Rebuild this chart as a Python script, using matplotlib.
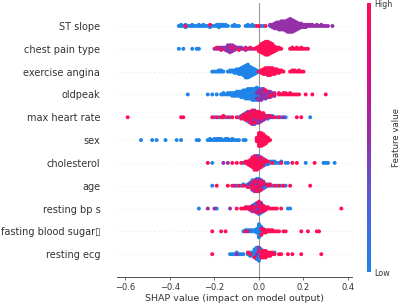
import numpy as np
import matplotlib
matplotlib.use("Agg")
import matplotlib.pyplot as plt
from matplotlib.colors import LinearSegmentedColormap

features = ["ST slope", "chest pain type", "exercise angina", "oldpeak",
            "max heart rate", "sex", "cholesterol", "age", "resting bp s",
            "fasting blood sugar\u25af", "resting ecg"]

st_slope_low = [(-0.36, 1), (-0.35, 2), (-0.34, 1), (-0.33, 2), (-0.32, 1), (-0.31, 1),
                (-0.30, 2), (-0.29, 1), (-0.28, 1), (-0.27, 2), (-0.26, 1), (-0.25, 2),
                (-0.24, 1), (-0.23, 1), (-0.22, 2), (-0.21, 1), (-0.20, 1), (-0.19, 2),
                (-0.18, 3), (-0.17, 2), (-0.16, 2), (-0.15, 2), (-0.14, 1), (-0.12, 1),
                (-0.11, 2), (-0.10, 1), (-0.09, 1), (-0.06, 1), (-0.05, 2), (-0.04, 1),
                (-0.03, 2), (-0.02, 1), (0.01, 1), (0.02, 1), (0.05, 1)]
st_slope_mid = [(0.05, 1), (0.06, 3), (0.07, 5), (0.08, 6), (0.09, 7), (0.10, 8), (0.11, 8),
                (0.12, 9), (0.13, 11), (0.14, 12), (0.15, 11), (0.16, 9), (0.17, 7),
                (0.18, 5), (0.19, 4), (0.20, 3), (0.21, 3), (0.22, 2), (0.23, 2), (0.24, 2),
                (0.25, 1), (0.26, 2), (0.27, 1), (0.28, 2), (0.29, 1), (0.30, 1), (0.31, 1),
                (0.33, 1)]
st_slope_high = [(-0.33, 1), (-0.22, 1), (-0.01, 1), (0.00, 1), (0.03, 1)]

chest_pain_low = [(-0.36, 1), (-0.34, 1), (-0.30, 1), (-0.28, 1), (-0.27, 1), (-0.14, 1),
                  (-0.13, 1), (-0.11, 1)]
chest_pain_mid = [(-0.20, 1), (-0.19, 1), (-0.18, 2), (-0.17, 2), (-0.16, 2), (-0.15, 3),
                  (-0.14, 5), (-0.13, 6), (-0.12, 5), (-0.11, 3), (-0.10, 2), (-0.09, 2),
                  (-0.08, 2), (-0.07, 1), (-0.06, 2), (-0.05, 1), (-0.04, 1), (-0.03, 1)]
chest_pain_high = [(-0.19, 1), (-0.17, 1), (-0.12, 1), (-0.09, 1), (-0.06, 1), (-0.04, 1),
                   (-0.02, 1), (-0.01, 2), (0.00, 5), (0.01, 8), (0.02, 10), (0.03, 12),
                   (0.04, 12), (0.05, 10), (0.06, 8), (0.07, 5), (0.08, 3), (0.09, 2),
                   (0.10, 1), (0.14, 1), (0.15, 2), (0.16, 1), (0.17, 2), (0.18, 1),
                   (0.19, 2), (0.20, 1), (0.21, 1), (0.22, 1)]

angina_low = [(-0.21, 1), (-0.20, 1), (-0.19, 1), (-0.18, 2), (-0.17, 2), (-0.16, 1),
              (-0.14, 1), (-0.13, 2), (-0.12, 2), (-0.11, 3), (-0.10, 4), (-0.09, 5),
              (-0.08, 6), (-0.07, 8), (-0.06, 11), (-0.05, 12), (-0.04, 9), (-0.03, 7),
              (-0.02, 5), (-0.01, 3)]
angina_mid = []
angina_high = [(0.00, 1), (0.01, 3), (0.02, 5), (0.03, 6), (0.04, 7), (0.05, 7), (0.06, 6),
               (0.07, 5), (0.08, 4), (0.09, 3), (0.10, 2), (0.11, 1), (0.14, 1), (0.15, 2),
               (0.16, 2), (0.17, 1), (0.18, 2), (0.19, 1), (0.20, 1)]

oldpeak_low = [(-0.32, 1), (-0.23, 1), (-0.21, 1), (-0.19, 1), (-0.17, 1), (-0.16, 2),
               (-0.15, 1), (-0.14, 2), (-0.13, 2), (-0.12, 3), (-0.11, 3), (-0.10, 4),
               (-0.09, 4), (-0.08, 5), (-0.07, 6), (-0.06, 7), (-0.05, 8), (-0.04, 8),
               (-0.03, 9), (-0.02, 9), (-0.01, 8), (0.00, 6), (0.01, 4), (0.02, 2)]
oldpeak_mid = [(-0.01, 2), (0.00, 3), (0.01, 5), (0.02, 6), (0.03, 6), (0.04, 5), (0.05, 4),
               (0.06, 3), (0.07, 2)]
oldpeak_high = [(0.03, 1), (0.05, 1), (0.07, 1), (0.09, 2), (0.10, 1), (0.11, 2), (0.12, 2),
                (0.13, 1), (0.14, 2), (0.15, 1), (0.16, 1), (0.17, 1), (0.18, 1), (0.21, 1),
                (0.24, 1), (0.30, 1)]

max_hr_low = [(-0.20, 1), (-0.18, 1), (-0.15, 1), (-0.13, 1), (-0.09, 1), (-0.08, 1),
              (-0.07, 2), (-0.06, 2), (-0.05, 3), (-0.04, 3), (-0.03, 3), (-0.02, 3),
              (-0.01, 2), (0.00, 2), (0.01, 2), (0.02, 1), (0.04, 1), (0.06, 1), (0.08, 1),
              (0.10, 1), (0.12, 1), (0.23, 1)]
max_hr_mid = [(-0.06, 1), (-0.05, 2), (-0.04, 3), (-0.03, 4), (-0.02, 4), (-0.01, 4),
              (0.00, 4), (0.01, 3), (0.02, 3), (0.03, 2), (0.04, 2), (0.05, 1), (0.06, 1),
              (0.11, 1)]
max_hr_high = [(-0.59, 1), (-0.35, 1), (-0.34, 1), (-0.21, 1), (-0.19, 1), (-0.17, 1),
               (-0.16, 2), (-0.14, 1), (-0.12, 1), (-0.10, 1), (-0.08, 2), (-0.07, 2),
               (-0.06, 3), (-0.05, 3), (-0.04, 3), (-0.03, 4), (-0.02, 4), (-0.01, 3),
               (0.00, 3), (0.01, 2), (0.02, 2), (0.03, 1), (0.05, 1), (0.07, 1), (0.09, 1),
               (0.17, 1), (0.19, 1)]

sex_low = [(-0.53, 1), (-0.48, 1), (-0.46, 1), (-0.42, 1), (-0.37, 1), (-0.35, 1),
           (-0.28, 1), (-0.27, 1), (-0.23, 1), (-0.22, 2), (-0.21, 1), (-0.20, 2),
           (-0.19, 2), (-0.18, 2), (-0.17, 2), (-0.16, 1), (-0.15, 2), (-0.14, 2),
           (-0.13, 1), (-0.12, 2), (-0.11, 1), (-0.10, 1), (-0.09, 1), (-0.07, 1),
           (-0.06, 1)]
sex_mid = []
sex_high = [(-0.01, 4), (0.00, 12), (0.01, 12), (0.02, 10), (0.03, 7), (0.04, 4), (0.05, 1)]

chol_low = [(-0.21, 1), (-0.07, 1), (-0.03, 1), (-0.02, 2), (-0.01, 2), (0.00, 2), (0.01, 2),
            (0.02, 2), (0.03, 2), (0.04, 2), (0.05, 2), (0.06, 1), (0.07, 2), (0.08, 1),
            (0.09, 1), (0.10, 1), (0.12, 1), (0.13, 1), (0.21, 1), (0.29, 1), (0.30, 1),
            (0.31, 1), (0.34, 1)]
chol_mid = [(-0.16, 1), (-0.14, 1), (-0.04, 1), (-0.03, 2), (-0.02, 3), (-0.01, 3),
            (0.00, 3), (0.01, 2), (0.02, 1)]
chol_high = [(-0.23, 1), (-0.12, 1), (-0.10, 1), (-0.08, 1), (-0.06, 2), (-0.05, 3),
             (-0.04, 4), (-0.03, 5), (-0.02, 6), (-0.01, 6), (0.00, 5), (0.01, 4), (0.02, 3),
             (0.03, 2), (0.04, 1), (0.06, 1), (0.10, 1), (0.15, 1), (0.17, 1), (0.25, 1)]

age_low = [(-0.21, 1), (-0.10, 1), (-0.08, 1), (-0.07, 1), (-0.05, 2), (-0.04, 2), (-0.03, 3),
           (-0.02, 3), (-0.01, 4), (0.00, 4), (0.01, 3), (0.02, 3), (0.03, 2), (0.04, 1),
           (0.06, 1), (0.08, 1), (0.10, 1), (0.12, 1)]
age_mid = [(-0.11, 1), (-0.06, 1), (-0.04, 2), (-0.03, 3), (-0.02, 4), (-0.01, 4), (0.00, 4),
           (0.01, 3), (0.02, 2), (0.03, 1), (0.05, 1)]
age_high = [(-0.19, 1), (-0.14, 1), (-0.12, 1), (-0.09, 1), (-0.07, 1), (-0.05, 1), (-0.03, 2),
            (-0.02, 2), (-0.01, 2), (0.00, 2), (0.01, 2), (0.02, 1), (0.04, 1), (0.05, 1),
            (0.07, 1), (0.09, 1), (0.11, 1), (0.14, 1), (0.23, 1)]

bp_low = [(-0.27, 1), (-0.19, 1), (-0.03, 1), (-0.02, 2), (-0.01, 3), (0.00, 3), (0.01, 2),
          (0.02, 1), (0.13, 1), (0.14, 1)]
bp_mid = [(-0.23, 1), (-0.20, 1), (-0.13, 1), (-0.05, 1), (-0.04, 2), (-0.03, 3), (-0.02, 3),
          (-0.01, 4), (0.00, 5), (0.01, 4), (0.02, 2), (0.03, 1)]
bp_high = [(-0.10, 1), (-0.08, 1), (-0.07, 1), (-0.06, 2), (-0.05, 1), (-0.04, 1), (-0.03, 1),
           (-0.02, 1), (-0.01, 1), (0.00, 2), (0.01, 2), (0.02, 2), (0.03, 2), (0.04, 2),
           (0.05, 1), (0.06, 1), (0.07, 1), (0.08, 1), (0.10, 1), (0.37, 1)]

fbs_low = [(-0.07, 1), (-0.06, 1), (-0.05, 1), (-0.04, 2), (-0.03, 2), (-0.02, 2), (-0.01, 4),
           (0.00, 12), (0.01, 6)]
fbs_mid = [(-0.05, 1), (0.02, 1)]
fbs_high = [(-0.21, 1), (-0.17, 1), (-0.15, 1), (-0.06, 1), (0.01, 2), (0.02, 3), (0.03, 3),
            (0.04, 2), (0.05, 2), (0.06, 2), (0.07, 1), (0.08, 1), (0.09, 1), (0.11, 1),
            (0.12, 1), (0.19, 1), (0.22, 1), (0.26, 1), (0.27, 1)]

ecg_low = [(-0.13, 1), (-0.12, 1), (-0.11, 1), (-0.10, 1), (-0.09, 1), (-0.08, 1), (-0.07, 1),
           (-0.05, 1), (-0.04, 2), (-0.03, 3), (-0.02, 5), (-0.01, 7), (0.00, 7), (0.01, 3),
           (0.02, 1), (0.05, 1), (0.07, 1)]
ecg_mid = [(-0.10, 1), (-0.01, 1), (0.00, 1), (0.03, 1)]
ecg_high = [(-0.21, 1), (-0.05, 1), (-0.04, 1), (-0.02, 1), (0.00, 1), (0.01, 3), (0.02, 4),
            (0.03, 4), (0.04, 3), (0.05, 2), (0.06, 2), (0.07, 1), (0.09, 1), (0.10, 1),
            (0.13, 1), (0.15, 1), (0.19, 1), (0.28, 1)]

groups = [
    (st_slope_low, st_slope_mid, st_slope_high),
    (chest_pain_low, chest_pain_mid, chest_pain_high),
    (angina_low, angina_mid, angina_high),
    (oldpeak_low, oldpeak_mid, oldpeak_high),
    (max_hr_low, max_hr_mid, max_hr_high),
    (sex_low, sex_mid, sex_high),
    (chol_low, chol_mid, chol_high),
    (age_low, age_mid, age_high),
    (bp_low, bp_mid, bp_high),
    (fbs_low, fbs_mid, fbs_high),
    (ecg_low, ecg_mid, ecg_high),
]
level_values = [0.0, 0.5, 1.0]  # low / mid / high feature value

# shap red_blue colormap (blue -> purple -> red)
cmap = LinearSegmentedColormap.from_list(
    "red_blue", ["#1e84e8", "#5060dc", "#9530a8", "#dc0a84", "#ff0d57"])


def expand(pairs):
    if not pairs:
        return np.array([])
    vals = np.array([v for v, _ in pairs])
    counts = np.array([n for _, n in pairs])
    return np.repeat(vals, counts)


def swarm_offsets(x, row_height=0.4, bin_width=0.01):
    # beeswarm stacking like shap's summary plot
    quant = np.round(x / bin_width)
    tie = (np.arange(len(x)) * 0.618034) % 1
    inds = np.lexsort((tie, quant))
    ys = np.zeros(len(x))
    layer = 0
    last_bin = None
    for ind in inds:
        if quant[ind] != last_bin:
            layer = 0
        ys[ind] = np.ceil(layer / 2) * ((layer % 2) * 2 - 1)
        layer += 1
        last_bin = quant[ind]
    ys *= 0.9 * (row_height / np.max(ys + 1))
    return ys


fig = plt.figure(figsize=(4, 3.07), dpi=100)
ax = fig.add_axes([0.2925, 0.0977, 0.5875, 0.892])

N = len(features)
for i, grp in enumerate(groups):
    pos = N - 1 - i
    ax.axhline(pos, color="#cccccc", lw=0.5, dashes=(1, 5), zorder=-1)
    xs = [expand(g) for g in grp]
    cs = [np.full(len(x), lv) for x, lv in zip(xs, level_values)]
    x = np.concatenate(xs)
    c = np.concatenate(cs)
    y = pos + swarm_offsets(x)
    sc = ax.scatter(x, y, c=c, cmap=cmap, vmin=0, vmax=1, s=8, linewidths=0,
                    zorder=3)

ax.axvline(0, color="#999999", lw=0.8, zorder=-1)
ax.set_ylim(-1, N)
ax.set_yticks(range(N))
ax.set_yticklabels(features[::-1])
ax.tick_params("y", length=0, pad=12, labelsize=7, labelcolor="#333333")
ax.tick_params("x", labelsize=6, color="#333333", labelcolor="#333333",
               length=2.5, width=0.5, pad=1.5)
for side in ["top", "right", "left"]:
    ax.spines[side].set_visible(False)
ax.spines["bottom"].set_color("#333333")
ax.spines["bottom"].set_linewidth(0.6)
ax.set_xlabel("SHAP value (impact on model output)", fontsize=6.8,
              color="#333333", labelpad=1.5)

cax = fig.add_axes([0.9175, 0.114, 0.011, 0.876])
cb = fig.colorbar(sc, cax=cax, ticks=[0, 1])
cb.set_ticklabels(["Low", "High"])
cb.set_label("Feature value", size=6.2, labelpad=0, color="#333333")
cb.ax.tick_params(labelsize=5.8, length=0, pad=2, labelcolor="#333333")
cb.outline.set_visible(False)

fig.savefig("out.png", dpi=100)
